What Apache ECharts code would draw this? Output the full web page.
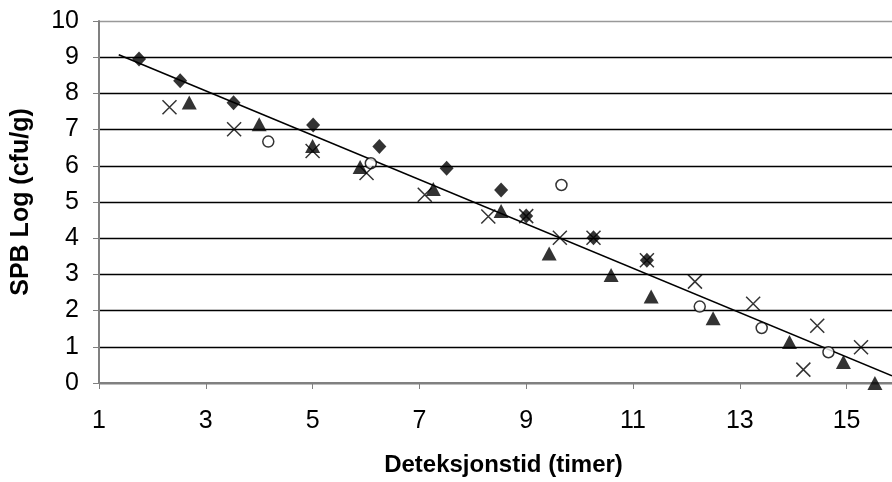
<!DOCTYPE html>
<html>
<head>
<meta charset="utf-8">
<script src="https://cdn.jsdelivr.net/npm/echarts@6/dist/echarts.min.js"></script>
<style>
  html, body { margin: 0; padding: 0; background: #fff; }
  #chart { width: 892px; height: 482px; }
</style>
</head>
<body>
<div id="chart"></div>
<script>
// x = deteksjonstid (timer), y = SPB log (cfu/g)
const diamondX = [1.75, 2.52, 3.52, 5.01, 6.25, 7.51, 8.53, 9.0, 10.26, 11.26];
const diamondY = [8.95, 8.35, 7.74, 7.13, 6.53, 5.93, 5.33, 4.61, 4.01, 3.39];

const triangleX = [2.69, 4.0, 5.0, 5.89, 7.26, 8.53, 9.43, 10.59, 11.34, 12.5, 13.93, 14.94, 15.53];
const triangleY = [7.75, 7.15, 6.55, 5.97, 5.36, 4.75, 3.58, 2.98, 2.39, 1.79, 1.13, 0.58, 0.0];

const circleX = [4.17, 6.09, 9.66, 12.25, 13.41, 14.66];
const circleY = [6.67, 6.07, 5.47, 2.11, 1.52, 0.85];

const crossX = [2.32, 3.53, 5.0, 6.01, 7.10, 8.29, 9.0, 9.63, 10.26, 11.26, 12.16, 13.25, 14.19, 14.45, 15.27];
const crossY = [7.62, 7.01, 6.41, 5.80, 5.20, 4.60, 4.61, 4.01, 4.01, 3.39, 2.80, 2.19, 0.37, 1.58, 0.99];

// trend line end points
const trendX = [1.37, 15.85];
const trendY = [9.07, 0.20];

const xTicks = [1, 3, 5, 7, 9, 11, 13, 15];

const zip = (xs, ys) => xs.map((x, i) => [x, ys[i]]);

const chart = echarts.init(document.getElementById('chart'));

const font = 'Liberation Sans, Arial, sans-serif';

// 11 split lines 0..10, top one grey like the plot border
const splitColors = ['#000', '#000', '#000', '#000', '#000', '#000', '#000', '#000', '#000', '#000', '#999'];

chart.setOption({
    animation: false,
    grid: { left: 99, right: 0, top: 21, bottom: 97 },
    xAxis: {
        type: 'value',
        min: 1,
        max: 15.85,
        name: 'Deteksjonstid (timer)',
        nameLocation: 'middle',
        nameGap: 70,
        nameTextStyle: { fontFamily: font, fontSize: 24, fontWeight: 'bold', color: '#000', padding: [0, 0, 0, 16] },
        axisLine: { show: true, lineStyle: { color: '#808080', width: 2 } },
        axisTick: { show: true, length: 6, customValues: xTicks, lineStyle: { color: '#808080', width: 1 } },
        axisLabel: { customValues: xTicks, fontFamily: font, fontSize: 25, color: '#000', margin: 26 },
        splitLine: { show: false }
    },
    yAxis: {
        type: 'value',
        min: 0,
        max: 10,
        interval: 1,
        name: 'SPB Log (cfu/g)',
        nameLocation: 'middle',
        nameGap: 65,
        nameTextStyle: { fontFamily: font, fontSize: 25, fontWeight: 'bold', color: '#000' },
        axisLine: { show: true, lineStyle: { color: '#808080', width: 2 } },
        axisTick: { show: true, length: 6, lineStyle: { color: '#808080', width: 1 } },
        axisLabel: { fontFamily: font, fontSize: 25, color: '#000', margin: 20 },
        splitLine: { show: true, lineStyle: { color: splitColors, width: 1.3 } }
    },
    series: [
        {
            type: 'line',
            data: zip(trendX, trendY),
            showSymbol: false,
            symbol: 'none',
            lineStyle: { color: '#000', width: 1.6 },
            z: 3
        },
        {
            name: 'triangle',
            type: 'scatter',
            data: zip(triangleX, triangleY),
            symbol: 'triangle',
            symbolSize: [15, 14],
            clip: false,
            itemStyle: { color: '#000' },
            z: 4
        },
        {
            name: 'circle',
            type: 'scatter',
            data: zip(circleX, circleY),
            symbol: 'circle',
            symbolSize: 11,
            clip: false,
            itemStyle: { color: '#fff', borderColor: '#000', borderWidth: 1.5 },
            z: 5
        },
        {
            name: 'diamond',
            type: 'scatter',
            data: zip(diamondX, diamondY),
            symbol: 'diamond',
            symbolSize: [14, 15],
            clip: false,
            itemStyle: { color: '#000' },
            z: 6
        },
        {
            name: 'cross',
            type: 'scatter',
            data: zip(crossX, crossY),
            symbol: 'path://M0,0L10,10M10,0L0,10',
            symbolSize: 14,
            clip: false,
            itemStyle: { color: 'none', borderColor: '#000', borderWidth: 1.5 },
            z: 7
        }
    ]
});
</script>
</body>
</html>
